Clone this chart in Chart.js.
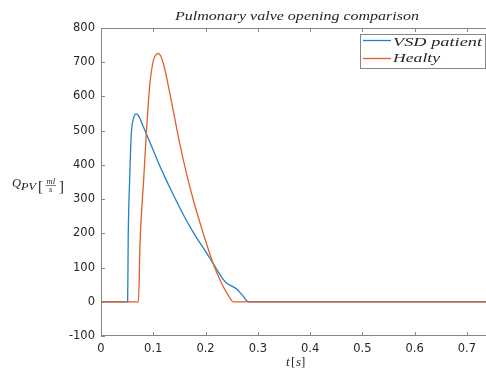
<!DOCTYPE html>
<html>
<head>
<meta charset="utf-8">
<script src="https://cdn.jsdelivr.net/npm/chart.js@4/dist/chart.umd.min.js"></script>
<style>
html, body { margin: 0; padding: 0; background: #fff; overflow: hidden; }
#wrap { width: 486px; height: 372px; overflow: hidden; position: relative; }
#c { position: absolute; left: 0; top: 0; }
</style>
</head>
<body>
<div id="wrap"><canvas id="c" width="494" height="372"></canvas></div>
<script>
// VSD patient
const tVsd = [0, 0.051, 0.052, 0.0548, 0.058, 0.062, 0.0676, 0.072, 0.080, 0.094, 0.108, 0.122, 0.136, 0.150, 0.164, 0.180, 0.196, 0.208, 0.217, 0.225, 0.232, 0.240, 0.250, 0.259, 0.270, 0.282, 0.75];
const qVsd = [0, 0, 181, 356, 492, 535, 549, 543, 515, 465, 413, 365, 320, 277, 236, 194, 157, 128, 106, 86, 69, 55, 46, 38, 20, 0, 0];
// Healthy
const tHealthy = [0, 0.0717, 0.0745, 0.078, 0.0816, 0.0867, 0.091, 0.0937, 0.100, 0.105, 0.1096, 0.115, 0.120, 0.1256, 0.138, 0.151, 0.164, 0.1765, 0.1956, 0.2167, 0.234, 0.244, 0.253, 0.75];
const qHealthy = [0, 0, 165, 272, 356, 492, 590, 640, 704, 722, 726, 716, 692, 655, 560, 460, 372, 298, 200, 103, 44, 18, 0, 0];

const xTicks = [0, 0.1, 0.2, 0.3, 0.4, 0.5, 0.6, 0.7];
const xTickLabels = ['0', '0.1', '0.2', '0.3', '0.4', '0.5', '0.6', '0.7'];
const yTicks = [-100, 0, 100, 200, 300, 400, 500, 600, 700, 800];
const yTickLabels = ['-100', '0', '100', '200', '300', '400', '500', '600', '700', '800'];

const blue = '#2380c6';
const orange = '#de602c';
const frameColor = '#868686';
const textColor = '#262626';
const tickFont = { family: 'DejaVu Sans', size: 11.5 };

// texte étiré horizontalement pour tenir dans une largeur donnée
function stretchText(ctx, text, x, y, width) {
    const w = ctx.measureText(text).width;
    ctx.save();
    ctx.translate(x, y);
    ctx.scale(width / w, 1);
    ctx.fillText(text, 0, 0);
    ctx.restore();
}

const decor = {
    id: 'decor',
    afterDraw(chart) {
        const ctx = chart.ctx;
        const a = chart.chartArea;
        const xs = chart.scales.x, ys = chart.scales.y;
        ctx.save();

        // cadre + graduations internes
        ctx.strokeStyle = frameColor;
        ctx.lineWidth = 1;
        ctx.beginPath();
        ctx.rect(a.left + 0.5, a.top + 0.5, a.right - a.left - 1, a.bottom - a.top - 1);
        xTicks.forEach(v => {
            const px = Math.round(xs.getPixelForValue(v)) + 0.5;
            ctx.moveTo(px, a.bottom); ctx.lineTo(px, a.bottom - 4);
            ctx.moveTo(px, a.top); ctx.lineTo(px, a.top + 4);
        });
        yTicks.forEach(v => {
            const py = Math.round(ys.getPixelForValue(v)) + 0.5;
            ctx.moveTo(a.left, py); ctx.lineTo(a.left + 4, py);
            ctx.moveTo(a.right, py); ctx.lineTo(a.right - 4, py);
        });
        ctx.stroke();

        ctx.fillStyle = textColor;
        ctx.textBaseline = 'alphabetic';
        ctx.textAlign = 'left';

        // titre
        ctx.font = 'italic 12.5px "Liberation Serif"';
        stretchText(ctx, 'Pulmonary valve opening comparison', 175, 20, 244);

        // légende
        ctx.fillStyle = '#fff';
        ctx.fillRect(360.5, 34.5, 125, 34);
        ctx.strokeStyle = frameColor;
        ctx.strokeRect(360.5, 34.5, 125, 34);
        ctx.lineWidth = 1.3;
        ctx.strokeStyle = blue;
        ctx.beginPath(); ctx.moveTo(363, 40.5); ctx.lineTo(391, 40.5); ctx.stroke();
        ctx.strokeStyle = orange;
        ctx.beginPath(); ctx.moveTo(363, 58.5); ctx.lineTo(391, 58.5); ctx.stroke();
        ctx.fillStyle = textColor;
        ctx.font = 'italic 13px "Liberation Serif"';
        stretchText(ctx, 'VSD patient', 393, 46, 89);
        stretchText(ctx, 'Healty', 393, 62, 47);

        // titre axe x : t[s]
        ctx.font = 'italic 13px "Liberation Serif"';
        ctx.fillText('t', 286, 366);
        ctx.font = '13px "Liberation Serif"';
        ctx.fillText('[', 291, 366);
        ctx.font = 'italic 13px "Liberation Serif"';
        ctx.fillText('s', 296, 366);
        ctx.font = '13px "Liberation Serif"';
        ctx.fillText(']', 301, 366);

        // titre axe y : Q_PV [ml/s]
        ctx.font = 'italic 13px "Liberation Serif"';
        stretchText(ctx, 'Q', 12, 187, 9);
        ctx.font = 'italic 9.5px "Liberation Serif"';
        stretchText(ctx, 'PV', 21, 190, 15);
        ctx.font = '15px "Liberation Serif"';
        ctx.fillText('[', 38, 191);
        ctx.fillText(']', 59, 191);
        ctx.font = 'italic 8.5px "Liberation Serif"';
        stretchText(ctx, 'ml', 46.5, 183.5, 8.5);
        ctx.fillText('s', 49, 191.5);
        ctx.strokeStyle = textColor;
        ctx.lineWidth = 0.6;
        ctx.beginPath(); ctx.moveTo(45.5, 185.5); ctx.lineTo(56, 185.5); ctx.stroke();

        ctx.restore();
    }
};

const toPoints = (ts, qs) => ts.map((t, i) => ({ x: t, y: qs[i] }));

new Chart(document.getElementById('c'), {
    type: 'line',
    data: {
        datasets: [
            {
                label: 'VSD patient',
                data: toPoints(tVsd, qVsd),
                borderColor: blue,
                borderWidth: 1.3,
                pointRadius: 0,
                cubicInterpolationMode: 'monotone',
                fill: false,
                order: 1
            },
            {
                label: 'Healty',
                data: toPoints(tHealthy, qHealthy),
                borderColor: orange,
                borderWidth: 1.3,
                pointRadius: 0,
                cubicInterpolationMode: 'monotone',
                fill: false,
                order: 0
            }
        ]
    },
    options: {
        responsive: false,
        animation: false,
        events: [],
        layout: { padding: { top: 28, right: 1, left: 0, bottom: 0 } },
        plugins: {
            legend: { display: false },
            title: { display: false },
            tooltip: { enabled: false }
        },
        scales: {
            x: {
                type: 'linear',
                min: 0,
                max: 0.75,
                afterBuildTicks: s => { s.ticks = xTicks.map(v => ({ value: v })); },
                afterFit: s => { s.height = 36; },
                ticks: {
                    font: tickFont,
                    color: textColor,
                    padding: 6,
                    maxRotation: 0,
                    autoSkip: false,
                    callback: (v, i) => xTickLabels[i]
                },
                grid: { display: false, drawTicks: false },
                border: { display: false }
            },
            y: {
                type: 'linear',
                min: -100,
                max: 800,
                afterBuildTicks: s => { s.ticks = yTicks.map(v => ({ value: v })); },
                afterFit: s => { s.width = 101; },
                ticks: {
                    font: tickFont,
                    color: textColor,
                    padding: 6,
                    autoSkip: false,
                    callback: (v, i) => yTickLabels[i]
                },
                grid: { display: false, drawTicks: false },
                border: { display: false }
            }
        }
    },
    plugins: [decor]
});
</script>
</body>
</html>
